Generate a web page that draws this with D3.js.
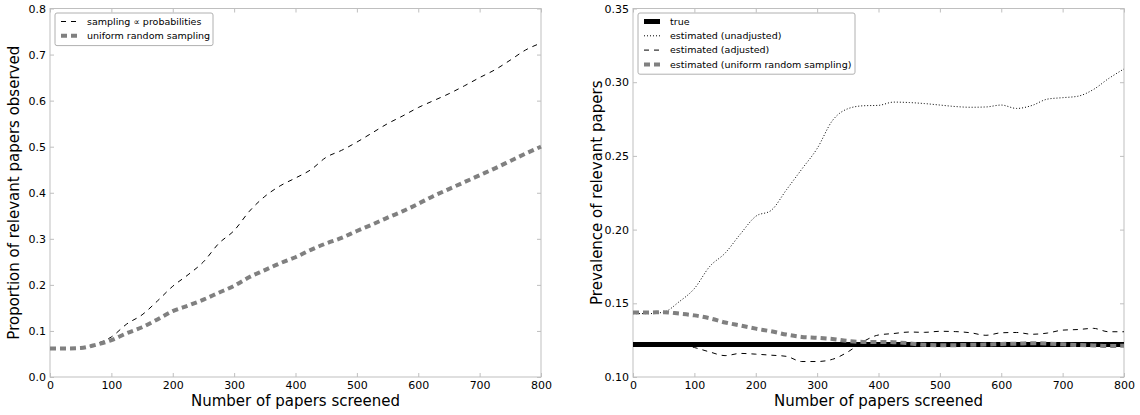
<!DOCTYPE html>
<html>
<head>
<meta charset="utf-8">
<script src="https://d3js.org/d3.v7.min.js"></script>
<style>
    body { margin:0; background:#fff; }
    svg text { font-family:"DejaVu Sans", sans-serif; fill:#000; }
</style>
</head>
<body>
<svg id="chart" width="1140" height="415"></svg>
<script>
// papers screened (shared x for every series)
var screened = [0,25,50,75,100,125,150,175,200,225,250,275,300,325,350,375,400,
    425,450,475,500,525,550,575,600,625,650,675,700,725,750,775,800];

// left panel: proportion of relevant papers observed
var observedProb = [0.062,0.062,0.063,0.072,0.087,0.115,0.135,0.165,0.197,0.222,0.250,0.290,0.318,
    0.360,0.392,0.415,0.432,0.450,0.477,0.492,0.510,0.530,0.550,0.567,0.585,0.600,0.615,0.632,
    0.650,0.667,0.688,0.710,0.725];
var observedUniform = [0.062,0.062,0.063,0.070,0.080,0.095,0.108,0.125,0.143,0.155,0.168,0.183,0.198,
    0.217,0.232,0.247,0.260,0.276,0.290,0.302,0.317,0.331,0.346,0.360,0.376,0.393,0.408,0.423,
    0.438,0.453,0.469,0.485,0.500];

// right panel: prevalence of relevant papers
var prevTrue = 0.122;
var prevUnadjusted = [0.143,0.143,0.144,0.151,0.160,0.175,0.184,0.197,0.209,0.213,0.227,0.241,0.255,
    0.274,0.282,0.284,0.2843,0.2865,0.2862,0.2855,0.2845,0.2835,0.283,0.2832,0.2845,0.2822,0.2842,
    0.2885,0.2895,0.2905,0.295,0.3025,0.309];
var prevAdjusted = [0.122,0.122,0.122,0.122,0.120,0.117,0.1145,0.116,0.1155,0.1148,0.114,0.1105,0.1105,
    0.112,0.117,0.124,0.1285,0.1295,0.1305,0.1303,0.131,0.1308,0.130,0.1283,0.130,0.1302,0.129,
    0.1298,0.1318,0.1322,0.133,0.1307,0.1307];
var prevUniform = [0.1437,0.1437,0.144,0.143,0.1418,0.1398,0.137,0.1349,0.1328,0.131,0.1288,0.1272,
    0.1266,0.1258,0.1245,0.1238,0.1238,0.1236,0.1228,0.1218,0.1216,0.1216,0.1218,0.122,0.1224,
    0.1226,0.1229,0.1227,0.1222,0.1217,0.1214,0.121,0.1212];

var xTicks = [0,100,200,300,400,500,600,700,800];
var leftYTicks = [0,0.1,0.2,0.3,0.4,0.5,0.6,0.7,0.8];
var rightYTicks = [0.10,0.15,0.20,0.25,0.30,0.35];

var svg = d3.select("#chart");
var spine = "#bfbfbf";

function panel(left, right, yDomain, yTicks, yFmt, yTitle){
    var top = 8.5, bottom = 377;
    var x = d3.scaleLinear().domain([0,800]).range([left,right]);
    var y = d3.scaleLinear().domain(yDomain).range([bottom,top]);
    var g = svg.append("g");

    // frame
    g.append("rect")
        .attr("x",left).attr("y",top)
        .attr("width",right-left).attr("height",bottom-top)
        .attr("fill","none").attr("stroke",spine).attr("stroke-width",1);

    var axes = [
        [d3.axisBottom(x).tickValues(xTicks).tickFormat(d3.format("d")), "translate(0,"+bottom+")", true],
        [d3.axisTop(x).tickValues(xTicks).tickFormat(""), "translate(0,"+top+")", false],
        [d3.axisLeft(y).tickValues(yTicks).tickFormat(d3.format(yFmt)), "translate("+left+",0)", true],
        [d3.axisRight(y).tickValues(yTicks).tickFormat(""), "translate("+right+",0)", false]
    ];
    axes.forEach(function(a){
        var ax = g.append("g")
            .attr("transform",a[1])
            .call(a[0].tickSizeInner(-4).tickSizeOuter(0).tickPadding(a[2] ? 4 : 0));
        ax.select(".domain").remove();
        ax.selectAll(".tick line").attr("stroke",spine);
        ax.selectAll(".tick text").attr("font-size","11px").attr("fill","#000");
    });

    g.append("text")
        .attr("x",(left+right)/2).attr("y",406)
        .attr("text-anchor","middle")
        .attr("font-size","15px")
        .text("Number of papers screened");
    g.append("text")
        .attr("transform","translate("+(left-31)+","+((top+bottom)/2)+") rotate(-90)")
        .attr("text-anchor","middle")
        .attr("font-size","15px")
        .text(yTitle);

    return {g:g, x:x, y:y};
}

function drawLine(p, values, color, width, dash){
    var line = d3.line()
        .x(function(d,i){return p.x(screened[i]);})
        .y(function(d){return p.y(d);})
        .curve(d3.curveMonotoneX);
    p.g.append("path")
        .datum(values)
        .attr("d",line)
        .attr("fill","none")
        .attr("stroke",color)
        .attr("stroke-width",width)
        .attr("stroke-dasharray",dash);
}

function legend(p, x0, y0, w, items){
    var h = items.length*14.3 + 4;
    p.g.append("rect")
        .attr("x",x0).attr("y",y0).attr("width",w).attr("height",h)
        .attr("rx",2)
        .attr("fill","#fff").attr("stroke","#b0b0b0").attr("stroke-width",1);
    items.forEach(function(it,i){
        var cy = y0 + 8.5 + i*14.3;
        p.g.append("line")
            .attr("x1",x0+6).attr("x2",x0+22)
            .attr("y1",cy).attr("y2",cy)
            .attr("stroke",it.color).attr("stroke-width",it.width)
            .attr("stroke-dasharray",it.dash);
        var t = p.g.append("text")
            .attr("x",x0+32).attr("y",cy)
            .attr("dy","0.35em")
            .attr("font-size","9.5px");
        it.label.forEach(function(part){
            t.append("tspan").attr("font-size",part[1]).text(part[0]);
        });
    });
}

// left panel
var pl = panel(50, 541, [0,0.8], leftYTicks, ".1f", "Proportion of relevant papers observed");
drawLine(pl, observedProb, "#000", 1, "5,5");
drawLine(pl, observedUniform, "#808080", 4, "6,4");
legend(pl, 55, 13, 158, [
    {label:[["sampling ","9.5px"],["\u221d","9px"],[" probabilities","9.5px"]], color:"#000", width:1, dash:"5,5"},
    {label:[["uniform random sampling","9.5px"]], color:"#808080", width:4, dash:"6,4"}
]);

// right panel
var pr = panel(633, 1124, [0.10,0.35], rightYTicks, ".2f", "Prevalence of relevant papers");
drawLine(pr, screened.map(function(){return prevTrue;}), "#000", 5, null);
drawLine(pr, prevUnadjusted, "#000", 1, "1,2");
drawLine(pr, prevAdjusted, "#000", 1, "5,5");
drawLine(pr, prevUniform, "#808080", 4, "6,4");
legend(pr, 638, 13, 217, [
    {label:[["true","9.5px"]], color:"#000", width:5, dash:null},
    {label:[["estimated (unadjusted)","9.5px"]], color:"#000", width:1, dash:"1,2"},
    {label:[["estimated (adjusted)","9.5px"]], color:"#000", width:1, dash:"5,5"},
    {label:[["estimated (uniform random sampling)","9.5px"]], color:"#808080", width:4, dash:"6,4"}
]);
</script>
</body>
</html>
